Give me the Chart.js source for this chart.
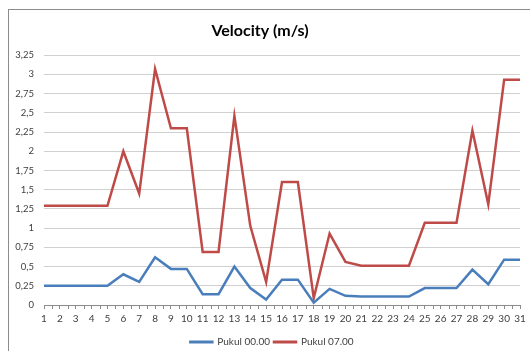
<!DOCTYPE html>
<html>
<head>
<meta charset="utf-8">
<script src="https://cdn.jsdelivr.net/npm/chart.js@4.4.0/dist/chart.umd.min.js"></script>
<style>
  html, body { margin: 0; padding: 0; background: #fff; overflow: hidden; }
  #frame { position: absolute; left: 8px; top: 9px; width: 560px; height: 400px; border: 1px solid #8c8c8c; }
  #wrap { position: absolute; left: 0; top: 0; width: 530px; height: 351px; }
</style>
</head>
<body>
<div id="frame"></div>
<div id="wrap"><canvas id="chart" width="530" height="351"></canvas></div>
<script>
// days 1..31
const days = []
for (let d = 1; d <= 31; d++) days.push(String(d))

// velocity
const pukul00 = [0.25, 0.25, 0.25, 0.25, 0.25, 0.40, 0.30, 0.62, 0.47, 0.47,
                 0.14, 0.14, 0.50, 0.22, 0.07, 0.33, 0.33, 0.03, 0.21, 0.12,
                 0.11, 0.11, 0.11, 0.11, 0.22, 0.22, 0.22, 0.46, 0.27, 0.59, 0.59]
const pukul07 = [1.29, 1.29, 1.29, 1.29, 1.29, 2.00, 1.45, 3.07, 2.30, 2.30,
                 0.69, 0.69, 2.46, 1.03, 0.30, 1.60, 1.60, 0.09, 0.93, 0.56,
                 0.51, 0.51, 0.51, 0.51, 1.07, 1.07, 1.07, 2.27, 1.31, 2.93, 2.93]

const yMax = 3.25
const yStep = 0.25

const fontFam = "Lato, 'Open Sans', sans-serif"

// small ticks halfway between categories, like the excel axis
const halfTicks = {
    id: 'halfTicks',
    afterLayout(chart) {
        // legend sits a bit right of centre and lower in the original
        const lg = chart.legend
        if (lg) { lg.left += 12; lg.right += 12; lg.top += 6; lg.bottom += 6 }
    },
    afterDraw(chart) {
        const x = chart.scales.x
        const ctx = chart.ctx
        const y0 = chart.chartArea.bottom
        ctx.save()
        ctx.strokeStyle = '#8c8c8c'
        ctx.lineWidth = 1
        for (let i = 0; i < days.length - 1; i++) {
            const px = Math.round((x.getPixelForValue(i) + x.getPixelForValue(i + 1)) / 2) + 0.5
            ctx.beginPath()
            ctx.moveTo(px, y0)
            ctx.lineTo(px, y0 + 4)
            ctx.stroke()
        }
        ctx.restore()
    }
}

new Chart(document.getElementById('chart'), {
    type: 'line',
    data: {
        labels: days,
        datasets: [{
            label: 'Pukul 00.00',
            data: pukul00,
            borderColor: '#4a7ebb',
            backgroundColor: '#4a7ebb',
            borderWidth: 2.5,
            pointRadius: 0,
            tension: 0
        }, {
            label: 'Pukul 07.00',
            data: pukul07,
            borderColor: '#be4b48',
            backgroundColor: '#be4b48',
            borderWidth: 2.5,
            pointRadius: 0,
            tension: 0
        }]
    },
    options: {
        responsive: false,
        animation: false,
        layout: { padding: { left: 0, right: 10, top: 0, bottom: 0 } },
        plugins: {
            title: {
                display: true,
                text: 'Velocity (m/s)',
                color: '#000',
                font: { family: fontFam, size: 16, weight: 'bold' },
                padding: { top: 21, bottom: 15 }
            },
            legend: {
                position: 'bottom',
                labels: {
                    boxWidth: 22,
                    boxHeight: 0.5,
                    color: '#404040',
                    font: { family: fontFam, size: 10 },
                    padding: 4
                }
            },
            tooltip: { enabled: false }
        },
        scales: {
            x: {
                offset: false,
                afterFit(scale) { scale.height = 22 },
                grid: { display: true, drawOnChartArea: false, drawTicks: true, tickLength: 4, color: '#8c8c8c' },
                border: { display: true, color: '#8c8c8c' },
                ticks: { color: '#404040', font: { family: fontFam, size: 10 }, padding: 4, maxRotation: 0, autoSkip: false }
            },
            y: {
                min: 0,
                max: yMax,
                afterFit(scale) { scale.width = 44 },
                grid: { color: '#d0d0d0', drawTicks: false },
                border: { display: false },
                ticks: {
                    stepSize: yStep,
                    padding: 10,
                    color: '#404040',
                    font: { family: fontFam, size: 9.5 },
                    callback: v => String(v).replace('.', ',')
                }
            }
        }
    },
    plugins: [halfTicks]
})
</script>
</body>
</html>
